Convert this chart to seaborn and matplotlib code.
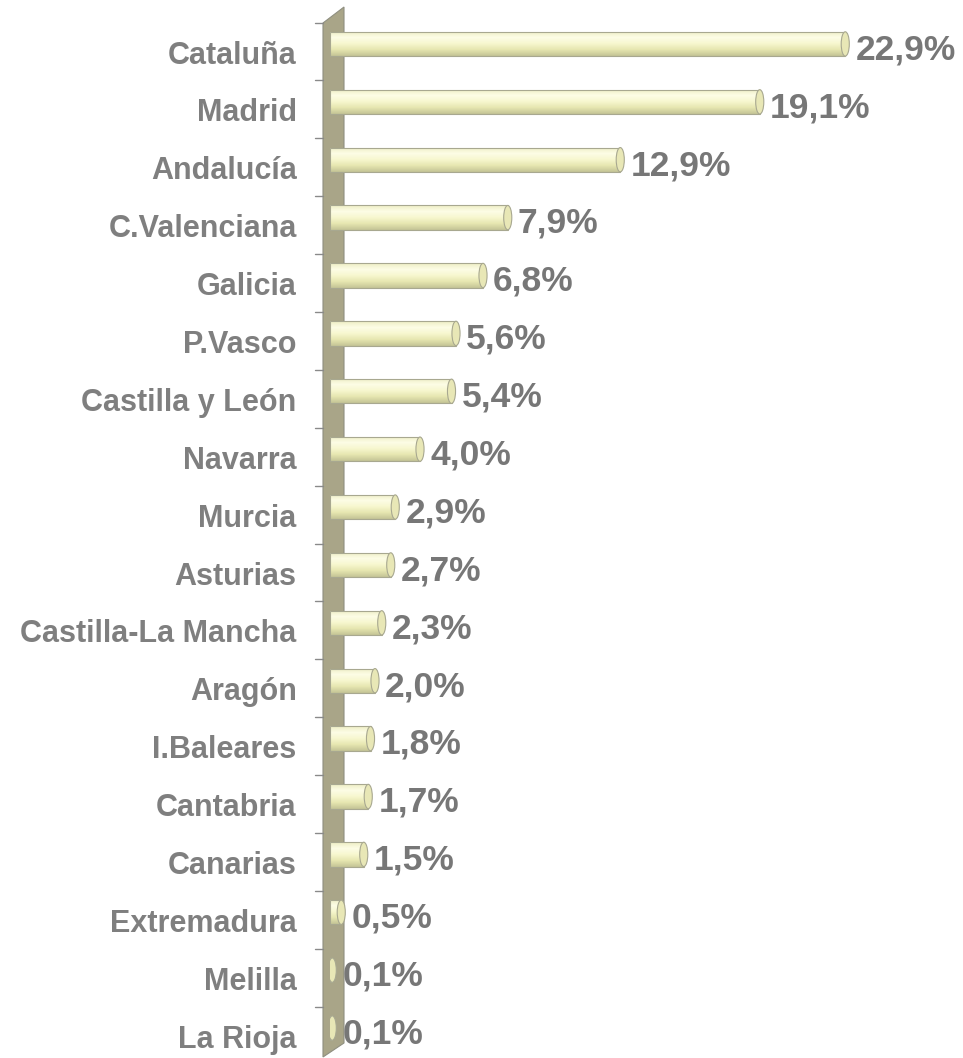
#import necessary libraries
import numpy as np
import matplotlib
matplotlib.use("Agg")
import matplotlib.pyplot as plt
from matplotlib.patches import Polygon, Ellipse
from matplotlib.colors import LinearSegmentedColormap
import seaborn as sns

#data
regions = ["Cataluña", "Madrid", "Andalucía", "C.Valenciana", "Galicia", "P.Vasco",
           "Castilla y León", "Navarra", "Murcia", "Asturias", "Castilla-La Mancha",
           "Aragón", "I.Baleares", "Cantabria", "Canarias", "Extremadura", "Melilla",
           "La Rioja"]
shares = [22.9, 19.1, 12.9, 7.9, 6.8, 5.6, 5.4, 4.0, 2.9, 2.7, 2.3, 2.0, 1.8, 1.7,
          1.5, 0.5, 0.1, 0.1]

#style
sns.set_style("white")
plt.rcParams['font.family'] = ['Liberation Sans', 'DejaVu Sans']

W, H = 963, 1058
fig = plt.figure(figsize=(W / 100, H / 100), dpi=100)
ax = fig.add_axes([330 / W, 1 - 1057 / H, 633 / W, 1042 / H])

#bars
sns.barplot(x=shares, y=regions, orient="h", color="#f6f6cc", width=0.42,
            edgecolor="#a8a890", linewidth=0.8, ax=ax)

xmax = 633 / 22.5
n = len(regions)

#cylinder look: vertical gradient clipped to each bar
cyl = LinearSegmentedColormap.from_list(
    "cyl", ["#eeeec4", "#fdfde6", "#f7f7cf", "#e6e6b0", "#c4c496"])
grad = np.linspace(0, 1, 64).reshape(-1, 1)
for p in list(ax.patches):
    x0, y0 = p.get_x(), p.get_y()
    w, h = p.get_width(), p.get_height()
    im = ax.imshow(grad, extent=[x0, x0 + w, y0 + h, y0], origin="upper",
                   aspect="auto", cmap=cyl, zorder=1.05)
    im.set_clip_path(p)
    p.set_facecolor("none")
    p.set_zorder(1.1)
    #end cap
    ax.add_patch(Ellipse((x0 + w, y0 + h / 2), 0.36, h, facecolor="#e8e7b6",
                         edgecolor="#a8a890", linewidth=0.8, zorder=1.2))

#3d wall on the left
wall_px = [(323, 23), (344, 7), (344, 1043), (323, 1057)]
wall = Polygon([(x / W, 1 - y / H) for x, y in wall_px], closed=True,
               facecolor="#a9a588", edgecolor="#8f8f80", linewidth=0.8,
               transform=fig.transFigure, zorder=0.5, clip_on=False)
ax.add_patch(wall)

#tick marks on the wall
trans = matplotlib.transforms.blended_transform_factory(fig.transFigure, ax.transData)
for i in range(n):
    ax.plot([315 / W, 323 / W], [i - 0.37, i - 0.37], color="#8a8a8a", lw=1,
            transform=trans, clip_on=False, zorder=0.6)

#value labels
for i, v in enumerate(shares):
    ax.text(v + 0.45, i + 0.1, f"{v:.1f}".replace(".", ",") + "%", ha="left",
            va="center", fontsize=25.5, fontweight="bold", color="#777777")

ax.set_xlim(0, xmax)
ax.set_ylim(n - 0.5, -0.5)
ax.set_xticks([])
ax.set_yticks(np.arange(n) + 0.14, labels=regions)
ax.tick_params(axis="y", length=0, pad=24, labelsize=22, labelcolor="#7f7f7f")
for t in ax.get_yticklabels():
    t.set_fontweight("bold")
ax.set_xlabel("")
ax.set_ylabel("")
sns.despine(ax=ax, left=True, bottom=True)

fig.savefig("out.png", dpi=100)
